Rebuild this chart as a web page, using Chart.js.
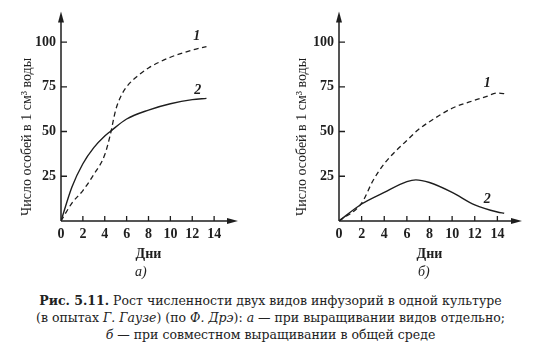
<!DOCTYPE html>
<html>
<head>
<meta charset="utf-8">
<script src="https://cdn.jsdelivr.net/npm/chart.js@4/dist/chart.umd.min.js"></script>
<style>
    body { margin: 0; background: #fff; width: 541px; height: 352px; position: relative; overflow: hidden; }
    .box { position: absolute; top: 0; width: 270px; height: 280px; }
    .sub { position: absolute; top: 264px; font: italic 14px "Liberation Serif", serif; color: #222; }
    #caption { position: absolute; left: 0; top: 292px; width: 541px; text-align: center; white-space: nowrap;
               font: 12.5px/17px "DejaVu Serif", serif; color: #222; }
</style>
</head>
<body>
<div class="box" style="left:0"><canvas id="chartA" width="270" height="280"></canvas></div>
<div class="box" style="left:270px"><canvas id="chartB" width="271" height="280"></canvas></div>
<div class="sub" style="left:135px">а)</div>
<div class="sub" style="left:418px">б)</div>
<div id="caption"><b>Рис. 5.11.</b> Рост численности двух видов инфузорий в одной культуре<br>
(в опытах <i>Г. Гаузе</i>) (по <i>Ф. Дрэ</i>): <i>а</i> — при выращивании видов отдельно;<br>
<i>б</i> — при совместном выращивании в общей среде</div>
<script>
// days and values
const daysA1 = [0, 1, 2, 3, 4, 4.5, 5, 5.5, 6, 7, 8, 10, 12, 13.3];
const valsA1 = [0, 10, 17, 26, 37, 48, 62, 70, 75, 81, 85.5, 91.5, 95.5, 97.5];
const daysA2 = [0, 1, 2, 3, 4, 4.5, 6, 8, 10, 12, 13.3];
const valsA2 = [0, 19, 32, 41, 47.5, 50, 57, 62, 65.5, 67.8, 68.5];

const daysB1 = [0, 2, 3, 4, 5, 6, 7, 8, 10, 12, 13, 14, 14.8];
const valsB1 = [0, 10, 22.5, 32, 39, 45, 51, 55.5, 63, 67.5, 69.5, 71.5, 71];
const daysB2 = [0, 2, 4, 6, 6.8, 8, 10, 12, 14, 14.6];
const valsB2 = [0, 9.5, 16, 22, 23, 21.5, 16, 9, 5, 4.3];

const xTicks = [0, 2, 4, 6, 8, 10, 12, 14];
const yTicks = [25, 50, 75, 100];
const yTitle = 'Число особей в 1 см³ воды';
const xTitle = 'Дни';

// curve number labels, in data units
const marksA = [['1', 12.4, 103], ['2', 12.5, 73]];
const marksB = [['1', 13.1, 77], ['2', 13.1, 12]];

const ink = '#1e1e1e';
const serif = '"Liberation Serif", "DejaVu Serif", serif';

function points(xs, ys) {
    let data = [];
    for (let i = 0; i < xs.length; i++) {
        data.push({x: xs[i], y: ys[i]});
    }
    return data;
}

let axesPlugin = {
    id: 'axes',
    afterDraw(chart) {
        let ctx = chart.ctx;
        let a = chart.chartArea;
        let xs = chart.scales.x;
        let ys = chart.scales.y;
        let x0 = xs.getPixelForValue(0);
        let y0 = ys.getPixelForValue(0);
        ctx.save();
        ctx.strokeStyle = ink;
        ctx.fillStyle = ink;
        ctx.lineWidth = 1.5;
        ctx.beginPath();
        ctx.moveTo(x0, y0);
        ctx.lineTo(x0, a.top + 2);
        ctx.moveTo(x0, y0);
        ctx.lineTo(a.right - 2, y0);
        ctx.stroke();
        // arrow heads
        ctx.beginPath();
        ctx.moveTo(x0, a.top - 2);
        ctx.lineTo(x0 - 3, a.top + 9);
        ctx.lineTo(x0 + 3, a.top + 9);
        ctx.closePath();
        ctx.fill();
        ctx.beginPath();
        ctx.moveTo(a.right + 2, y0);
        ctx.lineTo(a.right - 9, y0 - 3);
        ctx.lineTo(a.right - 9, y0 + 3);
        ctx.closePath();
        ctx.fill();
        // small ticks
        ctx.lineWidth = 1.3;
        ctx.beginPath();
        for (let i = 1; i < xTicks.length; i++) {
            let px = xs.getPixelForValue(xTicks[i]);
            ctx.moveTo(px, y0);
            ctx.lineTo(px, y0 - 5);
        }
        for (let i = 0; i < yTicks.length; i++) {
            let py = ys.getPixelForValue(yTicks[i]);
            ctx.moveTo(x0, py);
            ctx.lineTo(x0 + 6, py);
        }
        ctx.stroke();
        // curve numbers
        let marks = chart.options.plugins.axes.marks;
        ctx.font = 'italic bold 14px ' + serif;
        ctx.textAlign = 'center';
        ctx.textBaseline = 'middle';
        for (let i = 0; i < marks.length; i++) {
            ctx.fillText(marks[i][0], xs.getPixelForValue(marks[i][1]), ys.getPixelForValue(marks[i][2]));
        }
        // y title
        let mid = chart.options.plugins.axes.titleX;
        ctx.translate(mid, ys.getPixelForValue(47));
        ctx.rotate(-Math.PI / 2);
        ctx.font = '14px ' + serif;
        ctx.fillText(yTitle, 0, 0);
        ctx.restore();
    }
};

function makeChart(id, d1, v1, d2, v2, marks, left, yWidth, right, titleX) {
    let ctx = document.getElementById(id).getContext('2d');
    return new Chart(ctx, {
        type: 'line',
        data: {
            datasets: [
                {
                    label: '1',
                    data: points(d1, v1),
                    borderColor: ink,
                    backgroundColor: 'transparent',
                    borderWidth: 1.3,
                    borderDash: [5, 3.5],
                    cubicInterpolationMode: 'monotone',
                    pointRadius: 0
                },
                {
                    label: '2',
                    data: points(d2, v2),
                    borderColor: ink,
                    backgroundColor: 'transparent',
                    borderWidth: 1.4,
                    cubicInterpolationMode: 'monotone',
                    pointRadius: 0
                }
            ]
        },
        options: {
            responsive: false,
            animation: false,
            layout: {padding: {left: left, right: right, top: 10, bottom: 0}},
            plugins: {
                legend: {display: false},
                tooltip: {enabled: false},
                axes: {marks: marks, titleX: titleX}
            },
            scales: {
                x: {
                    type: 'linear',
                    min: 0,
                    max: 16,
                    grid: {display: false, drawTicks: false},
                    border: {display: false},
                    afterBuildTicks(scale) {
                        scale.ticks = xTicks.map(v => ({value: v}));
                    },
                    afterFit(scale) {
                        scale.height = 59;
                    },
                    ticks: {
                        color: ink,
                        padding: 5,
                        maxRotation: 0,
                        font: {family: serif, size: 14, weight: 'bold'}
                    },
                    title: {
                        display: true,
                        text: xTitle,
                        color: ink,
                        padding: {top: 4, bottom: 17},
                        font: {family: serif, size: 14, weight: 'bold'}
                    }
                },
                y: {
                    type: 'linear',
                    min: 0,
                    max: 116,
                    grid: {display: false, drawTicks: false},
                    border: {display: false},
                    afterBuildTicks(scale) {
                        scale.ticks = yTicks.map(v => ({value: v}));
                    },
                    afterFit(scale) {
                        scale.width = yWidth;
                    },
                    ticks: {
                        color: ink,
                        padding: 5,
                        font: {family: serif, size: 14, weight: 'bold'}
                    }
                }
            }
        },
        plugins: [axesPlugin]
    });
}

let chartA = makeChart('chartA', daysA1, valsA1, daysA2, valsA2, marksA, 16, 45, 34, 27);
let chartB = makeChart('chartB', daysB1, valsB1, daysB2, valsB2, marksB, 21, 48, 21, 32);
</script>
</body>
</html>
